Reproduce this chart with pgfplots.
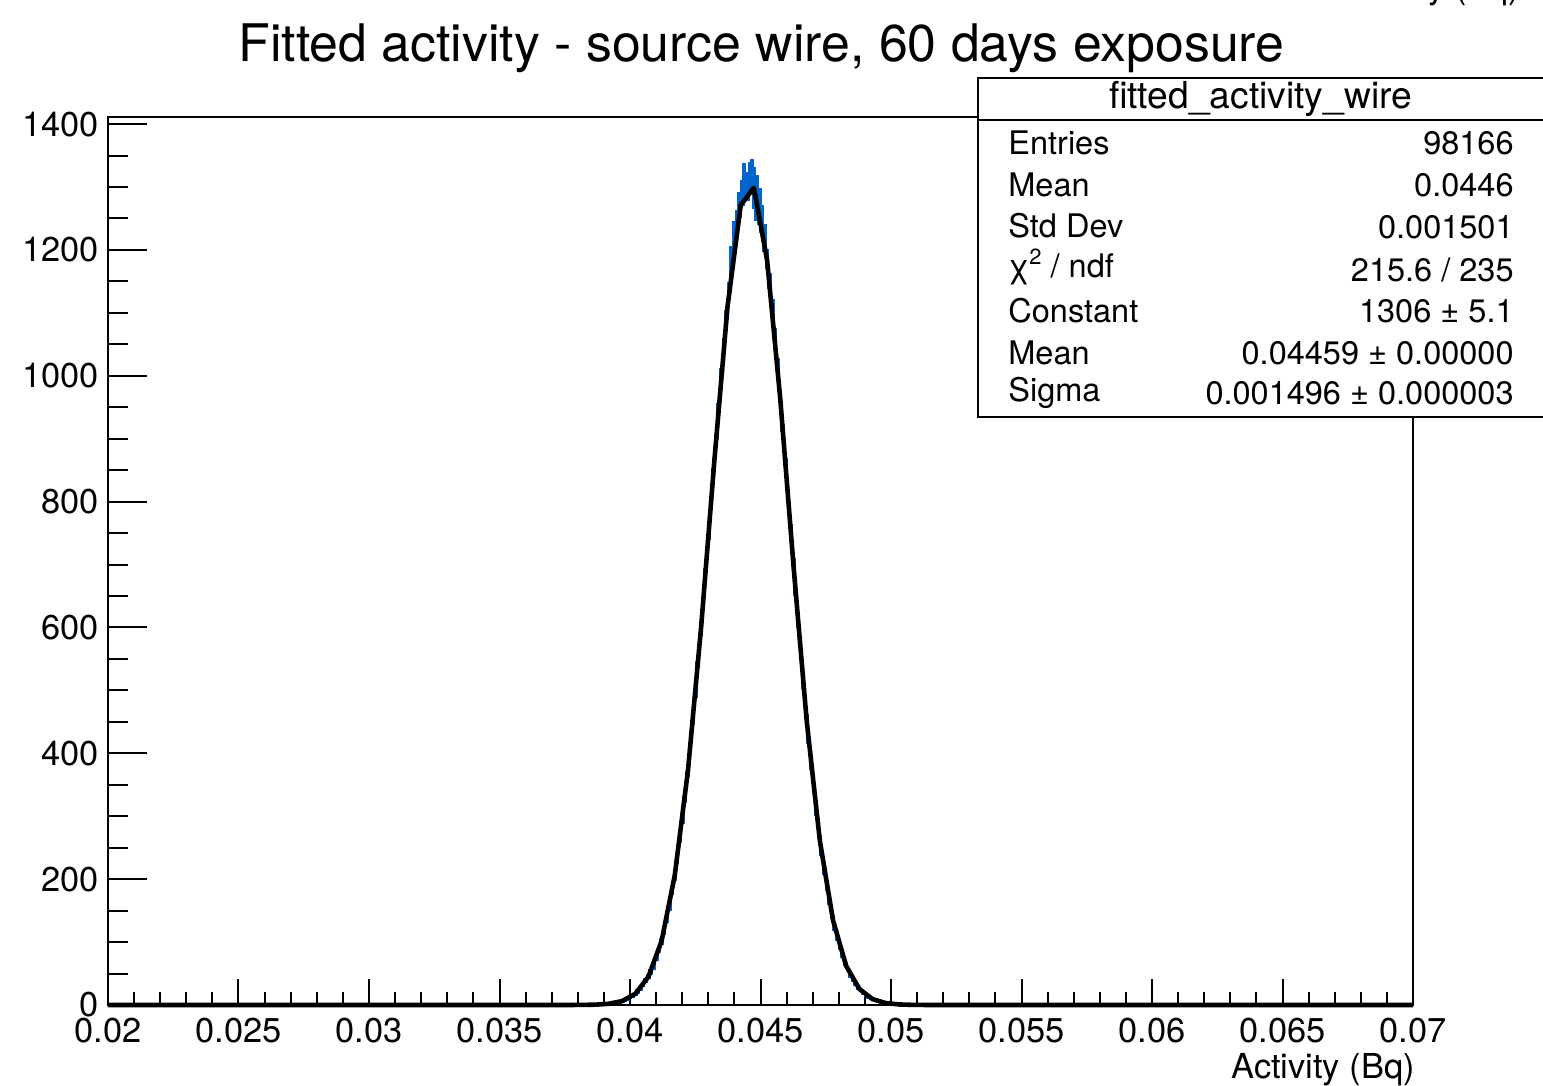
\documentclass[border=0pt]{standalone}
\usepackage{pgfplots}
\pgfplotsset{compat=1.18}
\usepackage{fontspec}
\setmainfont{TeX Gyre Heros}
\definecolor{histblue}{RGB}{0,102,204}
\begin{document}
\begin{tikzpicture}
\useasboundingbox (0,0) rectangle (771.5pt,543pt);
\clip (0,0) rectangle (771.5pt,543pt);
\begin{axis}[
  at={(54pt,40.5pt)}, anchor=south west,
  scale only axis, width=652.5pt, height=443.75pt,
  xmin=0.02, xmax=0.07, ymin=0, ymax=1410.5,
  xtick={0.02,0.025,0.03,0.035,0.04,0.045,0.05,0.055,0.06,0.065,0.07},
  xticklabels={0.02,0.025,0.03,0.035,0.04,0.045,0.05,0.055,0.06,0.065,0.07},
  ytick={0,200,400,600,800,1000,1200,1400},
  yticklabels={0,200,400,600,800,1000,1200,1400},
  minor x tick num=4, minor y tick num=3,
  tick align=inside, tick pos=left,
  scaled x ticks=false, scaled y ticks=false,
  ticklabel style={font=\fontsize{17.2}{20}\selectfont},
  xticklabel style={yshift=-3pt},
  yticklabel style={xshift=-1pt},
  axis line style={line width=1pt},
  every tick/.append style={black, line width=1pt},
  major x tick style={/pgfplots/major tick length=13pt},
  minor x tick style={/pgfplots/minor tick length=6.5pt},
  major y tick style={/pgfplots/major tick length=19.5pt},
  minor y tick style={/pgfplots/minor tick length=10pt},
  clip=false,
]
\addplot[histblue, line width=1.1pt, const plot mark left, mark=none]
  table[header=false, row sep=\\, x expr=0.0385+\coordindex*0.00005, y index=0] {
0\\ 1\\ 0\\ 0\\ 1\\ 0\\ 1\\ 0\\ 2\\ 1\\ 0\\ 2\\
1\\ 3\\ 2\\ 1\\ 4\\ 2\\ 3\\ 5\\ 3\\ 6\\
4\\ 7\\ 5\\ 9\\ 6\\ 10\\ 8\\ 13\\ 11\\ 15\\
13\\ 19\\ 16\\ 23\\ 20\\ 27\\ 24\\ 33\\ 30\\ 41\\
36\\ 47\\ 43\\ 55\\ 50\\ 63\\ 58\\ 77\\ 72\\ 88\\
84\\ 105\\ 97\\ 118\\ 113\\ 139\\ 132\\ 157\\ 151\\ 180\\
176\\ 204\\ 199\\ 235\\ 226\\ 262\\ 259\\ 297\\ 290\\ 331\\
322\\ 370\\ 364\\ 407\\ 402\\ 451\\ 447\\ 496\\ 490\\ 545\\
538\\ 590\\ 588\\ 640\\ 637\\ 693\\ 689\\ 745\\ 741\\ 798\\
794\\ 851\\ 848\\ 905\\ 899\\ 955\\ 948\\ 1010\\ 1001\\ 1058\\
1049\\ 1103\\ 1092\\ 1148\\ 1133\\ 1205\\ 1171\\ 1245\\ 1209\\ 1262\\
1227\\ 1290\\ 1252\\ 1309\\ 1271\\ 1336\\ 1289\\ 1322\\ 1280\\ 1338\\
1295\\ 1343\\ 1267\\ 1330\\ 1248\\ 1318\\ 1241\\ 1296\\ 1229\\ 1270\\
1198\\ 1239\\ 1171\\ 1199\\ 1139\\ 1162\\ 1101\\ 1120\\ 1059\\ 1074\\
1012\\ 1027\\ 966\\ 975\\ 913\\ 921\\ 862\\ 868\\ 811\\ 815\\
758\\ 762\\ 706\\ 708\\ 652\\ 656\\ 601\\ 603\\ 553\\ 556\\
504\\ 507\\ 461\\ 460\\ 417\\ 419\\ 376\\ 378\\ 338\\ 339\\
302\\ 303\\ 268\\ 269\\ 238\\ 237\\ 209\\ 210\\ 183\\ 184\\
160\\ 161\\ 139\\ 141\\ 120\\ 122\\ 104\\ 105\\ 89\\ 91\\
76\\ 78\\ 64\\ 66\\ 55\\ 57\\ 45\\ 47\\ 38\\ 40\\
32\\ 34\\ 26\\ 28\\ 22\\ 24\\ 18\\ 20\\ 14\\ 16\\
12\\ 13\\ 9\\ 11\\ 8\\ 9\\ 6\\ 7\\ 5\\ 6\\
4\\ 5\\ 3\\ 4\\ 2\\ 3\\ 2\\ 3\\ 1\\ 2\\
1\\ 2\\ 0\\ 1\\ 1\\ 0\\ 1\\ 0\\ 1\\ 0\\
0\\ 1\\ 0\\ 0\\ 1\\ 0\\ 0\\ 0\\ 0\\
};
\addplot[black, line width=2.3pt, line join=round, mark=none] coordinates {
(0.02,0) (0.037172,0.006) (0.037677,0.03) (0.038182,0.135) (0.038687,0.54)
(0.039192,1.94) (0.039697,6.21) (0.040202,17.68) (0.040707,44.98)
(0.041212,102.0) (0.041717,206.5) (0.042222,373.2) (0.042727,601.5)
(0.043232,865.0) (0.043737,1110.0) (0.044242,1271.1) (0.044747,1298.8)
(0.045253,1183.8) (0.045758,962.9) (0.046263,698.9) (0.046768,452.6)
(0.047273,261.5) (0.047778,134.8) (0.048283,62.0) (0.048788,25.5)
(0.049293,9.33) (0.049798,3.05) (0.050303,0.89) (0.050808,0.23)
(0.051313,0.05) (0.051818,0.01) (0.07,0)
};
\end{axis}
% title
\node[anchor=base, inner sep=0, font=\fontsize{25.9}{30}\selectfont] at (380.75pt,512pt)
  {Fitted activity - source wire, 60 days exposure};
% clipped text at top right
\node[anchor=base east, inner sep=0, font=\fontsize{17}{20}\selectfont] at (760pt,543.5pt)
  {Activity (Bq)};
% x axis title
\node[anchor=base east, inner sep=0, font=\fontsize{17.2}{20}\selectfont] at (707.5pt,3.5pt)
  {Activity (Bq)};
% stats box
\draw[line width=1pt, fill=white] (489pt,334.5pt) rectangle (775pt,504pt);
\draw[line width=1pt] (489pt,483pt) -- (775pt,483pt);
\node[anchor=base, inner sep=0, font=\fontsize{18.6}{22}\selectfont] at (630.25pt,488.5pt)
  {fitted\_activity\_wire};
\begin{scope}[every node/.style={inner sep=0, font=\fontsize{16.25}{19}\selectfont}]
\node[anchor=base west] at (504pt,465.5pt) {Entries};
\node[anchor=base west] at (504pt,444.5pt) {Mean};
\node[anchor=base west] at (504pt,424pt) {Std Dev};
\node[anchor=base west] at (504pt,404pt) {χ\raisebox{0.42em}{\fontsize{11}{12}\selectfont 2} / ndf};
\node[anchor=base west] at (504pt,381.5pt) {Constant};
\node[anchor=base west] at (504pt,360.5pt) {Mean};
\node[anchor=base west] at (504pt,342pt) {Sigma};
\node[anchor=base east] at (757pt,465.5pt) {98166};
\node[anchor=base east] at (757pt,444.5pt) {0.0446};
\node[anchor=base east] at (757pt,423.5pt) {0.001501};
\node[anchor=base east] at (757pt,402pt) {215.6 / 235};
\node[anchor=base east] at (757pt,381.5pt) {1306 ± 5.1};
\node[anchor=base east] at (757pt,360.5pt) {0.04459 ± 0.00000};
\node[anchor=base east] at (757pt,340.5pt) {0.001496 ± 0.000003};
\end{scope}
\end{tikzpicture}
\end{document}
